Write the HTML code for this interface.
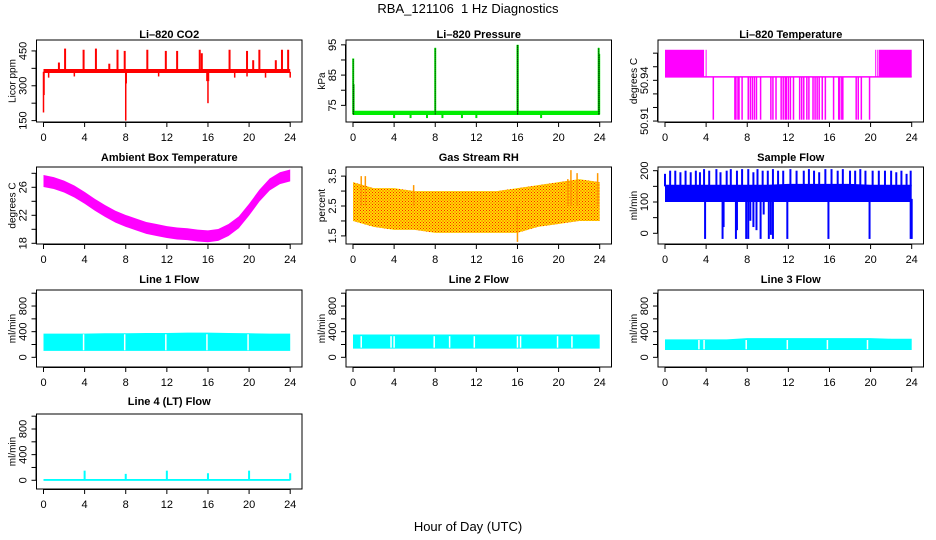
<!DOCTYPE html>
<html><head><meta charset="utf-8"><style>
html,body{margin:0;padding:0;background:#fff;}
svg{display:block;font-family:"Liberation Sans",sans-serif;}
</style></head><body>
<svg id="chart" width="936" height="540" viewBox="0 0 936 540" xmlns="http://www.w3.org/2000/svg">
<defs>
<pattern id="rhpat" width="3" height="3" patternUnits="userSpaceOnUse"><rect width="3" height="3" fill="#ffdd00"/><rect width="1" height="1" fill="#ff2000"/><rect x="1.5" y="1.5" width="1" height="1" fill="#ff2000"/></pattern>
</defs>
<text x="468" y="13" text-anchor="middle" font-size="13">RBA_121106&#160; 1 Hz Diagnostics</text>
<text x="468" y="531" text-anchor="middle" font-size="13">Hour of Day (UTC)</text>
</svg>
<script>
// ---- data ----
const bandHours = [0,2,4,6,8,10,12,14,16,18,20,22,24];
const xTicks = [0,4,8,12,16,20,24];
// CO2
const co2Low = [355,355,355,355,355,355,355,355,355,355,355,355,355];
const co2High = [372,372,372,372,372,372,372,372,372,372,372,372,372];
const co2SpikeHours = [1.5,2.1,3.9,5.1,6.4,7.2,7.9,10.1,11.9,13.0,15.2,15.4,18.1,19.8,20.4,21.0,22.6,23.2,23.8];
const co2SpikeVals = [400,460,455,460,395,455,450,455,450,450,455,440,455,450,410,455,410,455,455];
const co2DipHours = [0.0,0.05,0.5,3.0,8.0,8.05,11.2,15.9,16.0,16.05,18.6,19.8,21.6,24.0];
const co2DipVals = [185,260,335,340,150,310,340,320,225,320,335,340,335,335];
// Pressure
const presLow = [71.8,71.8,71.8,71.8,71.8,71.8,71.8,71.8,71.8,71.8,71.8,71.8,71.8];
const presHigh = [73.2,73.2,73.2,73.2,73.2,73.2,73.2,73.2,73.2,73.2,73.2,73.2,73.2];
const presSpikeHours = [0.02,0.06,8.0,16.0,16.03,23.9,23.95];
const presSpikeVals = [90.5,82,94,95,95,94,92];
const presDipHours = [4.0,5.6,7.2,8.7,10.6,12.0,18.3];
const presDipVals = [70.8,70.8,70.8,70.8,70.8,70.8,70.8];
// Li-820 temperature
const liBlockStart = [0,20.8];
const liBlockEnd = [3.8,24];
const liBlockHigh = 50.9625;
const liBase = 50.9425;
const liUpHours = [4.0,20.5,20.7];
const liDownHours = [4.7,6.8,6.9,7.1,7.2,7.5,8.1,8.3,8.5,8.7,8.9,9.3,10.3,10.5,10.8,11.3,11.5,11.7,11.8,12.0,12.2,12.5,13.1,13.3,13.5,13.8,14.0,14.4,14.6,14.8,15.0,15.3,15.6,16.4,16.9,17.0,17.2,17.3,18.6,18.8,19.1,19.9];
const liDownVals = [50.911,50.911,50.911,50.911,50.911,50.911,50.911,50.911,50.911,50.911,50.911,50.911,50.911,50.911,50.911,50.911,50.911,50.911,50.911,50.911,50.911,50.911,50.911,50.911,50.911,50.911,50.911,50.911,50.911,50.911,50.911,50.911,50.911,50.911,50.911,50.911,50.911,50.911,50.911,50.911,50.911,50.911];
// Ambient temperature (hourly center)
const ambHours = [0,1,2,3,4,5,6,7,8,9,10,11,12,13,14,15,16,17,18,19,20,21,22,23,24];
const ambCenter = [26.9,26.6,26.1,25.4,24.5,23.5,22.6,21.8,21.2,20.7,20.2,19.9,19.6,19.4,19.3,19.1,19.0,19.2,19.9,21.0,22.8,24.8,26.4,27.3,27.7];
const ambHalfWidth = 0.85;
// RH
const rhLow = [2.0,1.8,1.7,1.7,1.6,1.6,1.6,1.6,1.6,1.8,1.9,2.0,2.0];
const rhHigh = [3.3,3.1,3.1,3.0,3.0,3.0,3.0,3.0,3.1,3.2,3.3,3.4,3.3];
const rhSpikeHours = [0.8,1.2,5.9,16.0,20.9,21.2,21.8,23.8];
const rhSpikeVals = [3.5,3.5,3.2,1.3,3.4,3.7,3.6,3.6];
// Sample flow
const sfLow = [100,100,100,100,100,100,100,100,100,100,100,100,100];
const sfHigh = [155,155,155,155,155,155,158,158,158,158,155,155,155];
const sfSpikeHours = [0,0.5,1,1.5,2,2.5,3,3.4,3.8,4.3,5,5.4,6,6.4,7,7.5,8.1,8.6,9,9.5,10,10.5,11,11.5,12.2,12.8,13.5,14,14.5,15,15.6,16.2,16.8,17.3,18,18.5,19,19.5,20.2,20.8,21.4,22,22.5,23,23.5,23.9];
const sfSpikeVals = [190,200,200,195,200,195,200,195,205,200,205,195,200,205,200,205,205,195,205,200,200,205,200,200,205,200,200,205,200,195,205,205,200,205,200,200,205,200,200,200,200,200,195,200,190,200];
const sfDipHours = [3.9,5.6,5.7,6.9,7.0,7.9,8.1,8.3,8.6,8.9,9.3,9.6,10.1,10.3,10.5,11.9,15.9,19.9,23.9,24.0];
const sfDipVals = [-18,-18,20,-18,10,-18,-18,40,20,10,-18,60,-18,-5,-18,-18,-18,-18,-18,-18];
// Line flows
const l1Low = [100,100,100,100,100,100,100,100,100,100,100,100,100];
const l1High = [370,370,370,375,375,380,380,385,385,380,375,370,370];
const l1Gaps = [3.9,7.9,11.9,15.9,19.9];
const l2Low = [135,135,135,135,135,135,135,135,135,135,135,135,135];
const l2High = [355,355,355,355,355,355,355,355,355,355,355,355,355];
const l2Gaps = [0.8,3.7,4.0,7.9,9.4,11.8,16.0,16.3,19.9,21.3];
const l3Low = [114,114,114,114,114,114,114,114,114,114,114,114,114];
const l3High = [280,280,280,280,300,300,300,300,300,300,300,290,290];
const l3Gaps = [3.3,3.8,7.9,11.9,15.8,19.7];
const l4Low = [-10,-10,-10,-10,-10,-10,-10,-10,-10,-10,-10,-10,-10];
const l4High = [20,20,20,20,20,20,20,20,20,20,20,20,20];
const l4SpikeHours = [4.0,8.0,12.0,16.0,20.0,24.0];
const l4SpikeVals = [150,100,150,110,150,110];

// ---- layout ----
const svg = document.getElementById('chart');
const NS = 'http://www.w3.org/2000/svg';
function mk(tag, attrs, parent){const e=document.createElementNS(NS,tag);for(const k in attrs)e.setAttribute(k,attrs[k]);(parent||svg).appendChild(e);return e;}
const colLeft=[36.5,346,658];
const rowTop=[40,167,290,414], rowBot=[122,244,367,489], titleY=[38,161,283,405];

function panel(name,title,col,row,ylim,yticks,ylabels,ylab){
  const L=colLeft[col], R=L+265.5, T=rowTop[row], B=rowBot[row];
  const g=mk('g',{});
  
  
  const x=h=>L+7+h*(246.7/24);
  const y=v=>B-(v-ylim[0])/(ylim[1]-ylim[0])*(B-T);
  const t=mk('text',{x:(L+R)/2,y:titleY[row],'text-anchor':'middle','font-size':11,'font-weight':'bold'},g);
  t.textContent=title;
  
  
  const plot=mk('g',{},g);
  
  
  const box=mk('rect',{x:L,y:T,width:R-L,height:B-T,fill:'none',stroke:'#000','stroke-width':1},g);
  
  
  const xa=mk('g',{},g);
  
  
  mk('line',{x1:x(0),x2:x(24),y1:B+0.5,y2:B+0.5,stroke:'#000'},xa);
  xTicks.forEach(h=>{
    mk('line',{x1:x(h),x2:x(h),y1:B,y2:B+5,stroke:'#000'},xa);
    const tl=mk('text',{x:x(h),y:B+19,'text-anchor':'middle','font-size':11},xa);
    tl.textContent=h;
    
    
  });
  const ya=mk('g',{},g);
  
  
  mk('line',{x1:L-0.5,x2:L-0.5,y1:y(yticks[0]),y2:y(yticks[yticks.length-1]),stroke:'#000'},ya);
  yticks.forEach((v,i)=>{
    mk('line',{x1:L-5,x2:L,y1:y(v),y2:y(v),stroke:'#000'},ya);
    if(ylabels[i]!==''){
      const yl=mk('text',{x:0,y:0,'text-anchor':'middle','font-size':11,transform:`translate(${L-10},${y(v)}) rotate(-90)`},ya);
      yl.textContent=ylabels[i];
      
      
    }
  });
  const at=mk('text',{x:0,y:0,'text-anchor':'middle','font-size':10,transform:`translate(${L-21},${(T+B)/2}) rotate(-90)`},ya);
  at.textContent=ylab;
  
  
  return {x,y,plot};
}
function band(p,hrs,lo,hi,fill,nm){
  let pts=hrs.map((h,i)=>p.x(h)+','+p.y(hi[i]));
  pts=pts.concat(hrs.map((h,i)=>p.x(h)+','+p.y(lo[i])).reverse());
  const e=mk('polygon',{points:pts.join(' '),fill:fill},p.plot);
  
  
}
function vlines(p,hrs,from,vals,color,w,nm){
  hrs.forEach((h,i)=>{
    const f=Array.isArray(from)?from[i]:from;
    const e=mk('line',{x1:p.x(h),x2:p.x(h),y1:p.y(f),y2:p.y(vals[i]),stroke:color,'stroke-width':w},p.plot);
    
    
  });
}
function gaps(p,hrs,lo,hi,nm){
  hrs.forEach(h=>{
    const e=mk('line',{x1:p.x(h),x2:p.x(h),y1:p.y(hi),y2:p.y(lo),stroke:'#fff','stroke-width':1.5},p.plot);
    
    
  });
}

// CO2
let p=panel('co2','Li\u2013820 CO2',0,0,[144,497],[150,225,300,375,450],['150','','300','','450'],'Licor ppm');
band(p,bandHours,co2Low,co2High,'#ff0000','co2-band');
vlines(p,co2SpikeHours,365,co2SpikeVals,'#ff0000',2,'co2-spike');
vlines(p,co2DipHours,360,co2DipVals,'#ff0000',1.5,'co2-dip');
// Pressure
p=panel('pressure','Li\u2013820 Pressure',1,0,[69.5,96.6],[75,80,85,90,95],['75','','85','','95'],'kPa');
band(p,bandHours,presLow,presHigh,'#00ee00','pressure-band');
vlines(p,presDipHours,72,presDipVals,'#00dd00',2,'pressure-dip');
vlines(p,presSpikeHours,72,presSpikeVals,'#00ee00',2,'pressure-spike');
presSpikeHours.forEach((h,i)=>{const e=mk('line',{x1:p.x(h),x2:p.x(h),y1:p.y(72),y2:p.y(presSpikeVals[i]),stroke:'#000','stroke-width':1,'stroke-dasharray':'1,1'},p.plot);

});
// Li temperature
p=panel('li-temp','Li\u2013820 Temperature',2,0,[50.9093,50.9697],[50.91,50.92,50.93,50.94,50.95,50.96],['50.91','','','50.94','',''],'degrees C');
liBlockStart.forEach((s,i)=>{const e=mk('rect',{x:p.x(s),y:p.y(liBlockHigh),width:p.x(liBlockEnd[i])-p.x(s),height:p.y(liBase)-p.y(liBlockHigh),fill:'#ff00ff'},p.plot);

});
{const e=mk('line',{x1:p.x(0),x2:p.x(24),y1:p.y(liBase),y2:p.y(liBase),stroke:'#ff00ff','stroke-width':1.5},p.plot);

}
vlines(p,liUpHours,liBase,liUpHours.map(()=>liBlockHigh),'#ff00ff',1,'li-temp-up');
vlines(p,liDownHours,liBase,liDownVals,'#ff00ff',1.5,'li-temp-down');
// Ambient
p=panel('ambient','Ambient Box Temperature',0,1,[17.9,28.9],[18,20,22,24,26,28],['18','','22','','26',''],'degrees C');
band(p,ambHours,ambCenter.map(v=>v-ambHalfWidth),ambCenter.map(v=>v+ambHalfWidth),'#ff00ff','ambient-band');
// RH
p=panel('rh','Gas Stream RH',1,1,[1.229,3.805],[1.5,2,2.5,3,3.5],['1.5','','2.5','','3.5'],'percent');
band(p,bandHours,rhLow,rhHigh,'url(#rhpat)','rh-band');
vlines(p,rhSpikeHours,2.5,rhSpikeVals,'#ff9900',1.5,'rh-spike');
// Sample flow
p=panel('sample-flow','Sample Flow',2,1,[-34.2,211.8],[0,50,100,150,200],['0','','100','','200'],'ml/min');
band(p,bandHours,sfLow,sfHigh,'#0000ff','sample-flow-band');
vlines(p,sfSpikeHours,150,sfSpikeVals,'#0000ff',2,'sample-flow-spike');
vlines(p,sfDipHours,110,sfDipVals,'#0000ff',2,'sample-flow-dip');
// Line flows
const lt=[0,200,400,600,800,1000], ll=['0','','400','','800',''];
p=panel('line1','Line 1 Flow',0,2,[-151,1050],lt,ll,'ml/min');
band(p,bandHours,l1Low,l1High,'#00ffff','line1-band');gaps(p,l1Gaps,110,360,'line1-gap');
p=panel('line2','Line 2 Flow',1,2,[-151,1050],lt,ll,'ml/min');
band(p,bandHours,l2Low,l2High,'#00ffff','line2-band');gaps(p,l2Gaps,150,330,'line2-gap');
p=panel('line3','Line 3 Flow',2,2,[-151,1050],lt,ll,'ml/min');
band(p,bandHours,l3Low,l3High,'#00ffff','line3-band');gaps(p,l3Gaps,125,270,'line3-gap');
p=panel('line4','Line 4 (LT) Flow',0,3,[-136,1034],lt,ll,'ml/min');
band(p,bandHours,l4Low,l4High,'#00ffff','line4-band');
vlines(p,l4SpikeHours,0,l4SpikeVals,'#00ffff',2,'line4-spike');
</script>
</body></html>
